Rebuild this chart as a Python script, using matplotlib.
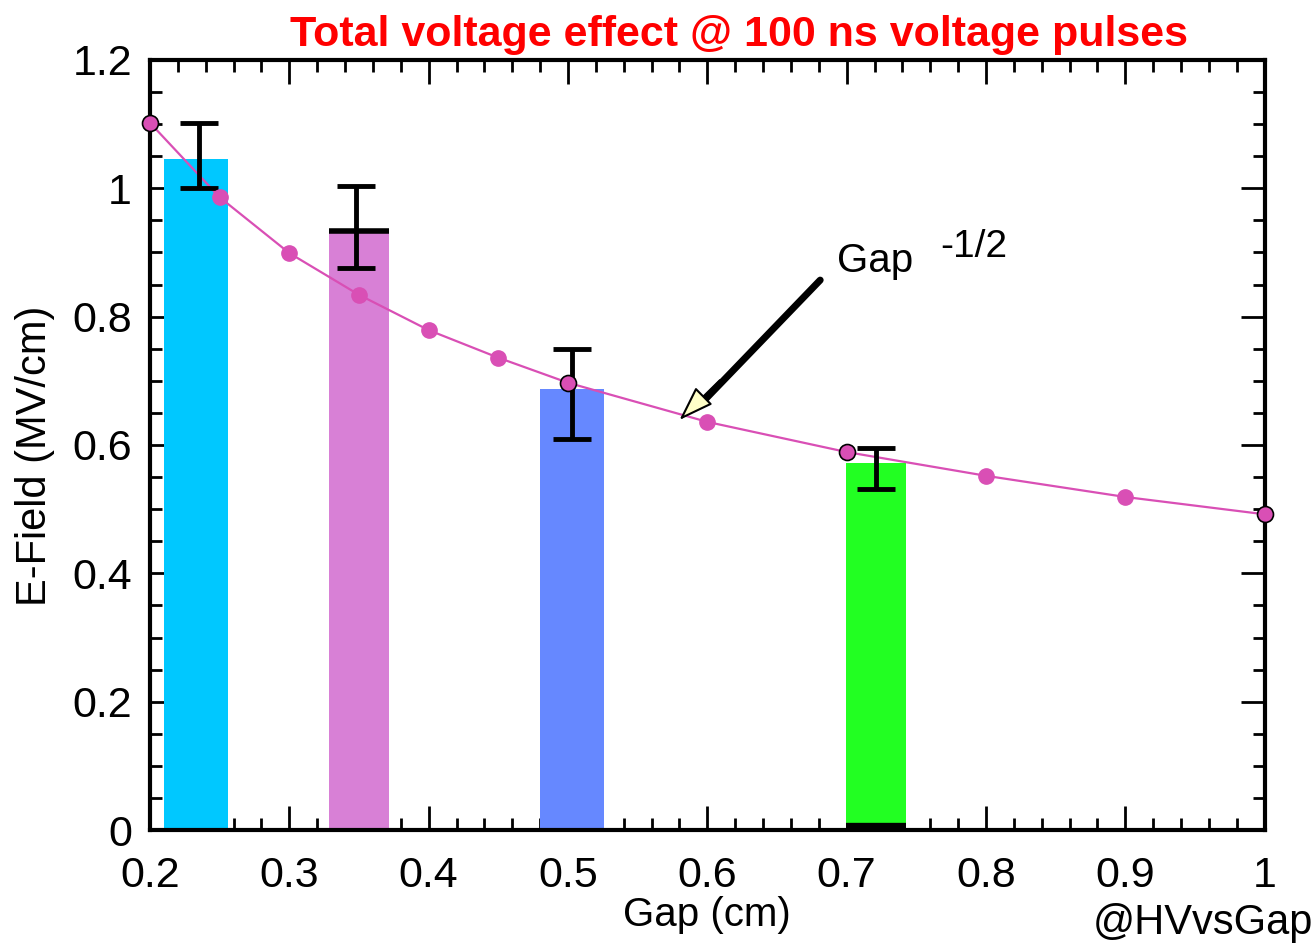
import matplotlib
matplotlib.use("Agg")
import matplotlib.pyplot as plt
from matplotlib.ticker import MultipleLocator, FormatStrFormatter

plt.rcParams["font.family"] = ["Liberation Sans", "DejaVu Sans"]

# measured bars (gap centre, width, field, error)
bar_gap   = [0.233, 0.350, 0.503, 0.721]
bar_width = [0.046, 0.043, 0.046, 0.043]
bar_field = [1.046, 0.933, 0.687, 0.572]
bar_color = ["#00c8ff", "#d880d6", "#6688ff", "#22ff22"]
err_gap   = [0.235, 0.348, 0.503, 0.721]
err_mid   = [1.051, 0.940, 0.680, 0.563]
err_half  = [0.051, 0.064, 0.070, 0.032]

# Gap^-1/2 curve points
curve_gap   = [0.2, 0.25, 0.3, 0.35, 0.4, 0.45, 0.5, 0.6, 0.7, 0.8, 0.9, 1.0]
curve_field = [1.102, 0.986, 0.899, 0.834, 0.779, 0.736, 0.697, 0.636, 0.589, 0.552, 0.519, 0.492]
edged_gap   = [0.2, 0.5, 0.7, 1.0]

curve_col = "#d94fb5"

fig = plt.figure(figsize=(13.16, 9.46), dpi=100)
ax = fig.add_axes([0.114, 0.1226, 0.847, 0.814])

ax.bar(bar_gap, bar_field, width=bar_width, color=bar_color, zorder=2)
# black segment on top of pink bar, and at the foot of the green one
ax.hlines(bar_field[1], bar_gap[1] - bar_width[1] / 2, bar_gap[1] + bar_width[1] / 2,
          color="black", lw=4, zorder=4)
ax.hlines(0.004, bar_gap[3] - bar_width[3] / 2, bar_gap[3] + bar_width[3] / 2,
          color="black", lw=6, zorder=4)

ax.errorbar(err_gap, err_mid, yerr=err_half, fmt="none", ecolor="black",
            elinewidth=3.5, capsize=14, capthick=3.5, zorder=5)

ax.plot(curve_gap, curve_field, color=curve_col, lw=1.6, zorder=3)
plain = [(g, f) for g, f in zip(curve_gap, curve_field) if g not in edged_gap]
edged = [(g, f) for g, f in zip(curve_gap, curve_field) if g in edged_gap]
ax.plot([p[0] for p in plain], [p[1] for p in plain], "o", color=curve_col,
        ms=11, mec=curve_col, zorder=6, clip_on=False)
ax.plot([p[0] for p in edged], [p[1] for p in edged], "o", color=curve_col,
        ms=11.5, mec="black", mew=1.2, zorder=6, clip_on=False)

# arrow and label
ax.annotate("", xy=(0.598, 0.670), xytext=(0.681, 0.857),
            arrowprops=dict(arrowstyle="-", lw=5, color="black", shrinkA=0, shrinkB=0),
            zorder=7)
ax.annotate("", xy=(0.580, 0.639), xytext=(0.609, 0.701),
            arrowprops=dict(arrowstyle="-|>,head_length=1.45,head_width=0.5",
                            mutation_scale=15, lw=1.5, fc="#ffffc8", ec="black",
                            shrinkA=0, shrinkB=0),
            zorder=8)
ax.text(0.693, 0.870, "Gap", fontsize=29, ha="left", va="baseline")
ax.text(0.767, 0.893, "-1/2", fontsize=28, ha="left", va="baseline")

ax.set_xlim(0.2, 1.0)
ax.set_ylim(0, 1.2)
ax.xaxis.set_major_locator(MultipleLocator(0.1))
ax.xaxis.set_minor_locator(MultipleLocator(0.02))
ax.yaxis.set_major_locator(MultipleLocator(0.2))
ax.yaxis.set_minor_locator(MultipleLocator(0.05))
ax.xaxis.set_major_formatter(FormatStrFormatter("%g"))
ax.yaxis.set_major_formatter(FormatStrFormatter("%g"))

ax.tick_params(which="both", direction="in", top=True, right=True, width=2)
ax.tick_params(which="major", length=17, labelsize=31)
ax.tick_params(which="minor", length=8.5)
ax.tick_params(axis="x", which="major", pad=19)
ax.tick_params(axis="y", which="major", pad=13)
for s in ax.spines.values():
    s.set_linewidth(3)

ax.set_xlabel("Gap (cm)", fontsize=29, labelpad=0)
ax.set_ylabel("E-Field (MV/cm)", fontsize=30)
ax.yaxis.set_label_coords(-0.085, 0.486)
ax.set_title("Total voltage effect @ 100 ns voltage pulses", fontsize=31,
             fontweight="bold", color="#ff0000", pad=10, x=0.528)
fig.text(0.998, 0.003, "@HVvsGap", fontsize=30, ha="right", va="bottom")

fig.savefig("out.png", dpi=100)
